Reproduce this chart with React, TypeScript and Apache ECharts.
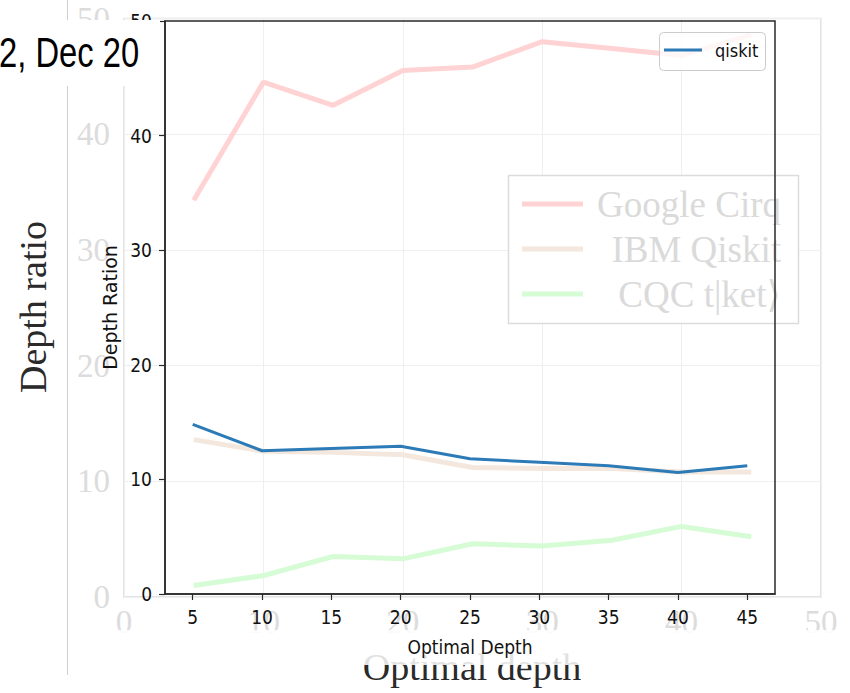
import React, { useEffect, useRef } from 'react';
import * as echarts from 'echarts';

// Optimal depth values (x)
const depthSteps = [5, 10, 15, 20, 25, 30, 35, 40, 45];
// Background (faded) figure series
const googleCirq = [34.3, 44.5, 42.5, 45.5, 45.8, 48.0, 47.4, 46.8, 48.6];
const ibmQiskit = [13.6, 12.6, 12.5, 12.3, 11.2, 11.1, 11.1, 10.8, 10.8];
const cqcTket = [1.0, 1.85, 3.5, 3.3, 4.6, 4.4, 4.9, 6.1, 5.2];
// Foreground figure series
const qiskit = [14.8, 12.5, 12.7, 12.9, 11.8, 11.5, 11.2, 10.6, 11.2];
// Tick labels
const fgXTicks = [5, 10, 15, 20, 25, 30, 35, 40, 45];
const bgLegendNames = ['Google Cirq', 'IBM Qiskit', 'CQC t|ket\u27E9'];
const bgColors = ['#ffd3d3', '#f4e8de', '#d5fcd5'];
const fgColor = '#2c7bb6';

const SANS_C = "'DejaVu Sans Condensed', 'DejaVu Sans', sans-serif";
const SERIF = "'Liberation Serif', 'DejaVu Serif', serif";

const pairs = (ys: number[]) => depthSteps.map((x, i) => [x, ys[i]]);

export default function App() {
  const ref = useRef<HTMLDivElement>(null);
  useEffect(() => {
    const chart = echarts.init(ref.current!, null, { renderer: 'svg' });
    const bgSeries = [googleCirq, ibmQiskit, cqcTket];
    const option: any = {
      animation: false,
      backgroundColor: '#ffffff',
      grid: [
        { left: 124, top: 18.5, width: 697, height: 578.5, show: true, borderColor: '#dcdcdc', borderWidth: 1.5, backgroundColor: 'transparent', z: 0 },
        { left: 165, top: 21, width: 610, height: 573, show: true, borderColor: '#2a2a2a', borderWidth: 1.5, backgroundColor: 'transparent', z: 20 },
      ],
      xAxis: [
        {
          gridIndex: 0, type: 'value', min: 0, max: 50, interval: 10, z: 0,
          axisLine: { show: false }, axisTick: { show: false },
          splitLine: { show: true, lineStyle: { color: '#efefef', width: 1 } },
          axisLabel: { fontFamily: SERIF, fontSize: 33, color: '#dcdcdc', margin: 8 },
        },
        {
          gridIndex: 1, type: 'value', min: 3, max: 47, z: 20,
          axisLine: { show: true, lineStyle: { color: '#2a2a2a', width: 1.5 } },
          axisTick: { show: true, length: 6, customValues: fgXTicks, lineStyle: { color: '#2a2a2a', width: 1.2 } },
          axisLabel: { customValues: fgXTicks, fontFamily: SANS_C, fontSize: 19, color: '#111', margin: 13 },
          splitLine: { show: false },
          name: 'Optimal Depth', nameLocation: 'middle', nameGap: 43,
          nameTextStyle: { fontFamily: SANS_C, fontSize: 19, color: '#111' },
        },
      ],
      yAxis: [
        {
          gridIndex: 0, type: 'value', min: 0, max: 50, interval: 10, z: 0,
          axisLine: { show: false }, axisTick: { show: false },
          splitLine: { show: true, lineStyle: { color: '#efefef', width: 1 } },
          axisLabel: { fontFamily: SERIF, fontSize: 33, color: '#dcdcdc', margin: 14 },
        },
        {
          gridIndex: 1, type: 'value', min: 0, max: 50, interval: 10, z: 20,
          axisLine: { show: true, lineStyle: { color: '#2a2a2a', width: 1.5 } },
          axisTick: { show: true, length: 6, lineStyle: { color: '#2a2a2a', width: 1.2 } },
          axisLabel: { fontFamily: SANS_C, fontSize: 19, color: '#111', margin: 13 },
          splitLine: { show: false },
          name: 'Depth Ration', nameLocation: 'middle', nameGap: 42,
          nameTextStyle: { fontFamily: "'DejaVu Sans', sans-serif", fontSize: 19, color: '#111' },
        },
      ],
      series: [
        ...bgSeries.map((ys, i) => ({
          name: bgLegendNames[i], type: 'line', xAxisIndex: 0, yAxisIndex: 0, z: 3,
          data: pairs(ys), symbol: 'none', silent: true,
          lineStyle: { color: bgColors[i], width: 5 },
        })),
        {
          name: 'qiskit', type: 'line', xAxisIndex: 1, yAxisIndex: 1, z: 20,
          data: pairs(qiskit), symbol: 'none',
          lineStyle: { color: fgColor, width: 3 },
        },
      ],
      graphic: [
        { type: 'line', z: 1, shape: { x1: 67.5, y1: 0, x2: 67.5, y2: 675 }, style: { stroke: '#cfcfcf', lineWidth: 1 } },
        { type: 'text', z: 5, x: 33, y: 307, rotation: Math.PI / 2, style: { text: 'Depth ratio', fontFamily: SERIF, fontSize: 38, fill: '#2a2a2a', align: 'center', verticalAlign: 'middle' } },
        { type: 'text', z: 5, x: 472, y: 667, style: { text: 'Optimal depth', fontFamily: SERIF, fontSize: 38, fill: '#2a2a2a', align: 'center', verticalAlign: 'middle' } },
        { type: 'rect', z: 8, shape: { x: 68, y: 630, width: 782, height: 35 }, style: { fill: 'rgba(255,255,255,0.86)' } },
        // background legend
        { type: 'rect', z: 10, shape: { x: 508.5, y: 175.5, width: 290, height: 148 }, style: { fill: '#ffffff', stroke: '#dcdcdc', lineWidth: 1.5 } },
        ...bgLegendNames.flatMap((n, i) => [
          { type: 'line', z: 11, shape: { x1: 522, y1: 204 + i * 45, x2: 583, y2: 204 + i * 45 }, style: { stroke: bgColors[i], lineWidth: 5 } },
          { type: 'text', z: 11, x: 781, y: 204 + i * 45, style: { text: n, fontFamily: SERIF, fontSize: 37, fill: '#dadada', align: 'right', verticalAlign: 'middle' } },
        ]),
        // foreground legend
        { type: 'rect', z: 30, shape: { x: 659.5, y: 32.5, width: 106, height: 38, r: 4 }, style: { fill: 'rgba(255,255,255,0.8)', stroke: '#cccccc', lineWidth: 1 } },
        { type: 'line', z: 31, shape: { x1: 664, y1: 50, x2: 702, y2: 50 }, style: { stroke: fgColor, lineWidth: 3 } },
        { type: 'text', z: 31, x: 715, y: 50, style: { text: 'qiskit', fontFamily: SANS_C, fontSize: 18, fill: '#111', align: 'left', verticalAlign: 'middle' } },
        // date box
        { type: 'rect', z: 50, shape: { x: 0, y: 20, width: 160, height: 66 }, style: { fill: '#ffffff' } },
        { type: 'text', z: 51, x: -1, y: 53, scaleX: 0.78, style: { text: '2, Dec 20', fontFamily: "'Liberation Sans', Arial, sans-serif", fontSize: 42, fill: '#000', align: 'left', verticalAlign: 'middle' } },
      ],
    };
    chart.setOption(option);
    return () => chart.dispose();
  }, []);
  return <div ref={ref} style={{ position: 'fixed', left: 0, top: 0, width: 850, height: 693, background: '#fff' }} />;
}
